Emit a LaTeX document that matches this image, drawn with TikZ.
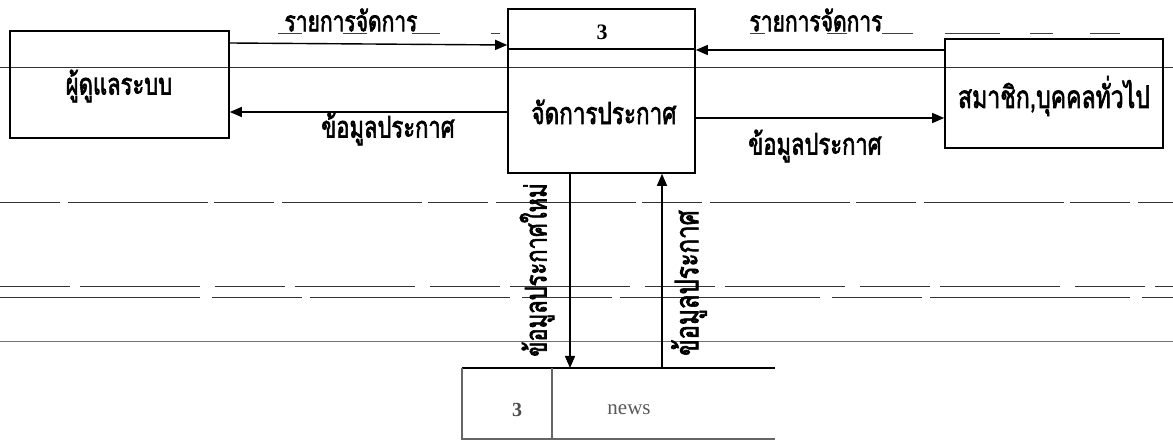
\documentclass[tikz,border=0pt]{standalone}
\usepackage{graphicx}
\usepackage{fontspec}
\newfontfamily\thaifont[Script=Thai,FakeBold=2.5]{Loma}
\setmainfont{Liberation Serif}
\usetikzlibrary{arrows.meta}
\newcommand{\thtxt}[2]{\fontsize{#1}{#1}\selectfont\scalebox{1}[1.35]{#2}}
\tikzset{
  ent/.style={draw, line width=1.6pt, inner sep=0pt},
  flow/.style={line width=1.4pt, -{Triangle[length=12pt,width=10pt]}},
  lbl/.style={font=\thaifont, inner sep=0pt},
  scan/.style={line width=0.8pt, black!80},
  uline/.style={line width=0.7pt, black!75},
  store/.style={line width=1.2pt, black!60}
}
\begin{document}
\begin{tikzpicture}[x=1pt,y=-1pt]
\useasboundingbox (0,0) rectangle (1173,446);
% scan artefact lines
\draw[scan] (0,67) -- (1173,67);
\draw[scan, dash pattern=on 60pt off 8pt on 140pt off 6pt] (0,202) -- (1173,202);
\draw[scan, dash pattern=on 70pt off 10pt on 120pt off 15pt] (0,286) -- (1173,286);
\draw[scan, dash pattern=on 200pt off 12pt on 90pt off 8pt] (0,297) -- (1173,297);
\draw[scan, black!55] (0,341) -- (1173,341);
% underline fragments
\draw[uline] (278,33) -- (302,33) (343,33) -- (367,33) (412,33) -- (440,33) (491,33) -- (500,33);
\draw[uline] (750,33) -- (765,33) (827,33) -- (847,33) (882,33) -- (913,33) (945,33) -- (1000,33) (1030,33) -- (1053,33) (1090,33) -- (1120,33);
% entities
\node[ent, minimum width=219pt, minimum height=107pt] (admin) at (119.5,84.5) {};
\node[lbl] (adminname) at (119,86) {\thtxt{22}{ผู้ดูแลระบบ}};
\node[ent, minimum width=218pt, minimum height=109pt] (member) at (1054,93.5) {};
\node[lbl] (membername) at (1054,96) {\thtxt{23}{สมาชิก,บุคคลทั่วไป}};
% process
\node[ent, minimum width=187pt, minimum height=164pt] (proc) at (601.5,91) {};
\coordinate (pl) at (proc.west |- 0,49);
\coordinate (pr) at (proc.east |- 0,49);
\draw[line width=1.6pt] (pl) -- (pr);
\node[font=\bfseries\fontsize{22}{22}\selectfont] (pid) at (602,32) {3};
\node[lbl] (pname) at (604,112) {\thtxt{22.5}{จัดการประกาศ}};
% data store
\coordinate (dsl) at (462,368);
\coordinate (dsr) at (775,368);
\coordinate (dsbl) at (462,439);
\coordinate (dsbr) at (775,439);
\coordinate (dsm) at (552,368);
\draw[line width=1.8pt] (dsl) -- (dsr);
\draw[store] (dsl) -- (dsbl) -- (dsbr);
\draw[store] (dsm) -- (dsm |- dsbl);
\node[font=\bfseries\fontsize{20}{20}\selectfont, black!70] (dsid) at (517,410) {3};
\node[font=\fontsize{21}{21}\selectfont, black!65] (dsname) at (629,410) {news};
% flows
\draw[flow] (admin.east |- 0,43) -- (proc.west |- 0,45);
\node[lbl] (f1) at (351,20) {\thtxt{21}{รายการจัดการ}};
\draw[flow] (proc.west |- 0,112) -- (admin.east |- 0,112);
\node[lbl] (f2) at (388,129) {\thtxt{22}{ข้อมูลประกาศ}};
\draw[flow] (member.west |- 0,50) -- (proc.east |- 0,50);
\node[lbl] (f3) at (816,20) {\thtxt{21}{รายการจัดการ}};
\draw[flow] (proc.east |- 0,118) -- (member.west |- 0,118);
\node[lbl] (f4) at (815,146) {\thtxt{22}{ข้อมูลประกาศ}};
\draw[flow] (proc.south -| 570,0) -- (dsl -| 570,0);
\node[lbl, rotate=90] (f5) at (537,270) {\thtxt{22}{ข้อมูลประกาศใหม่}};
\draw[flow] (dsl -| 662,0) -- (proc.south -| 662,0);
\node[lbl, rotate=90] (f6) at (689,283) {\thtxt{24}{ข้อมูลประกาศ}};
\end{tikzpicture}
\end{document}
